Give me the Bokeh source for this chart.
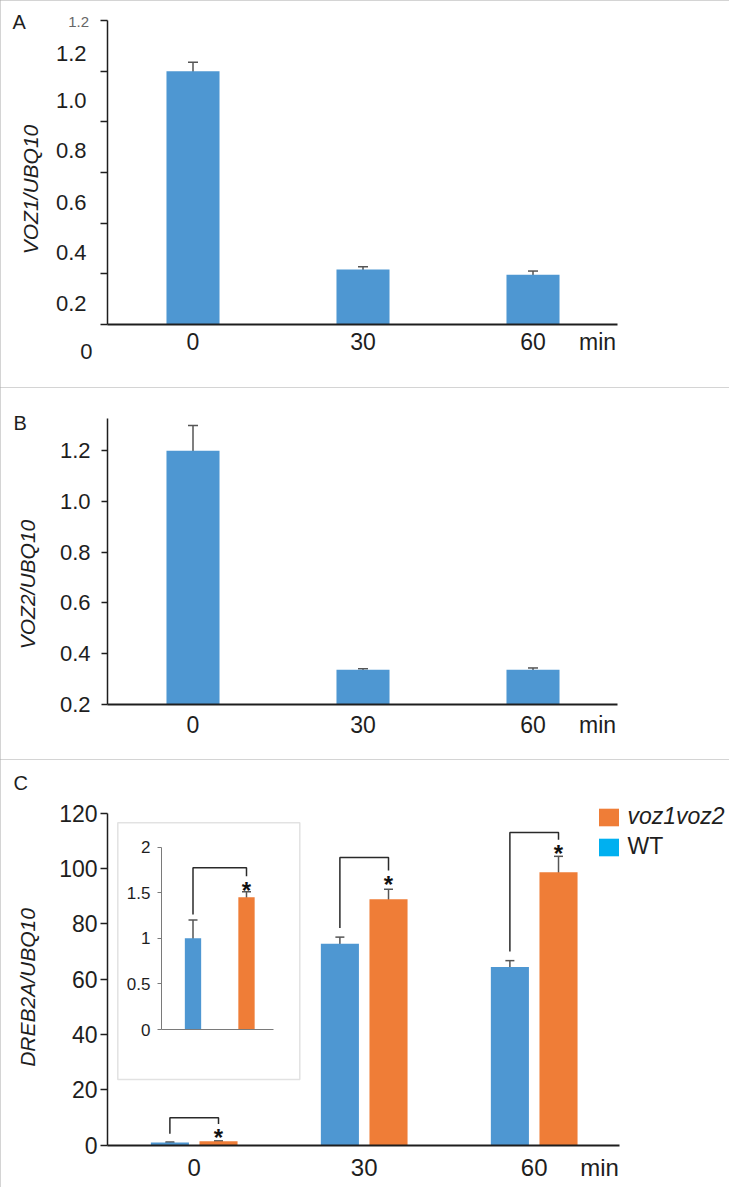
import math
from bokeh.plotting import figure
from bokeh.layouts import column
from bokeh.models import (Range1d, FixedTicker, Whisker, TeeHead, ColumnDataSource,
                          Label, Legend, LegendItem, LinearAxis, BoxAnnotation)
from bokeh.core.properties import value
from bokeh.embed import file_html
from bokeh.resources import INLINE

# ---------------- data ----------------
times = ["0", "30", "60"]
time_unit = "min"

# panel A : VOZ1/UBQ10
voz1_mean = [1.0, 0.217, 0.196]
voz1_sd = [0.035, 0.011, 0.015]
voz1_ticks = [0.0, 0.2, 0.4, 0.6, 0.8, 1.0, 1.2]
voz1_tick_labels = ["0", "0.2", "0.4", "0.6", "0.8", "1.0", "1.2"]
voz1_label_pos = [-0.105, 0.082, 0.285, 0.483, 0.687, 0.884, 1.069]  # labels sit off their ticks
voz1_extra_label = "1.2"

# panel B : VOZ2/UBQ10
voz2_mean = [1.2, 0.336, 0.336]
voz2_sd = [0.10, 0.004, 0.007]
voz2_ticks = [0.2, 0.4, 0.6, 0.8, 1.0, 1.2]
voz2_tick_labels = ["0.2", "0.4", "0.6", "0.8", "1.0", "1.2"]

# panel C : DREB2A/UBQ10
genotypes = ["voz1voz2", "WT"]
dreb_wt = [1.0, 72.8, 64.4]
dreb_wt_sd = [0.2, 2.4, 2.3]
dreb_mut = [1.45, 88.9, 98.6]
dreb_mut_sd = [0.06, 3.6, 5.8]
dreb_ticks = [0, 20, 40, 60, 80, 100, 120]
inset_ticks = [0, 0.5, 1, 1.5, 2]
inset_tick_labels = ["0", "0.5", "1", "1.5", "2"]
sig_marker = "*"
bracket_wt_end = [4.1, 78.5, 70.0]
bracket_top = [9.9, 104.0, 113.0]
bracket_mut_end = [7.7, 99.3, 110.4]
inset_bracket = [1.26, 1.773, 1.68]   # wt end, top, mutant end

# ---------------- styling ----------------
FONT = "Liberation Sans"
INK = "#1e1e1e"
BLUE = "#4E97D2"
ORANGE = "#EF7D37"
LEG_BLUE = "#00B0F0"
ERR = "#555555"
W = 729
NAN = float("nan")
STAR_OFFSET = 14


def lin(p0, per, v0, flip=False):
    """reference-pixel -> data value"""
    if flip:
        return lambda px: v0 + (p0 - px) / per
    return lambda px: v0 + (px - p0) / per


def make_panel(h, ref_top, dx, dy):
    p = figure(width=W, height=h, x_range=Range1d(dx(0), dx(W)),
               y_range=Range1d(dy(ref_top + h), dy(ref_top)),
               x_axis_location=None, y_axis_location=None, min_border=0,
               output_backend="svg", toolbar_location=None)
    p.grid.visible = False
    p.outline_line_color = None
    p.styles = {"outline": "2px solid #a9a9a9", "outline-offset": "-2px"}
    return p


def x_axis(p, y_at, x_lo, x_hi, ticks, labels, size="23px", standoff=1):
    ax = LinearAxis(fixed_location=y_at, bounds=(x_lo, x_hi),
                    ticker=FixedTicker(ticks=ticks),
                    major_label_overrides={t: l for t, l in zip(ticks, labels)},
                    axis_line_color=INK, axis_line_width=2,
                    major_tick_line_color=None, minor_tick_line_color=None,
                    major_label_text_font=FONT, major_label_text_font_size=size,
                    major_label_text_color=INK, major_label_standoff=standoff)
    p.add_layout(ax, "below")
    return ax


def y_axis(p, x_at, bounds, ticker, overrides, size, standoff, tick_out):
    ax = LinearAxis(fixed_location=x_at, bounds=bounds, ticker=ticker,
                    major_label_overrides=overrides,
                    axis_line_color=INK, axis_line_width=1.5,
                    major_tick_line_color=INK, major_tick_line_width=1.5,
                    major_tick_out=tick_out, major_tick_in=0,
                    minor_tick_line_color=None,
                    major_label_text_font=FONT, major_label_text_font_size=size,
                    major_label_text_color=INK, major_label_standoff=standoff)
    p.add_layout(ax, "left")
    return ax


def add_whiskers(p, xs, mean, sd, size=10, **kw):
    src = ColumnDataSource(dict(x=xs,
                                upper=[m + s for m, s in zip(mean, sd)],
                                lower=[m - s for m, s in zip(mean, sd)]))
    w = Whisker(source=src, base="x", upper="upper", lower="lower",
                line_color=ERR, line_width=1.5,
                upper_head=TeeHead(size=size, line_color=ERR, line_width=1.5),
                lower_head=TeeHead(size=size, line_color=ERR, line_width=1.5), **kw)
    p.add_layout(w)


def add_label(p, x, y, text, size, align="left", baseline="middle", color=INK,
              style="normal", angle=0.0):
    p.add_layout(Label(x=x, y=y, text=text, text_font=FONT, text_font_size=size,
                       text_align=align, text_baseline=baseline, text_color=color,
                       text_font_style=style, angle=angle))


pos = list(range(len(times)))
UP = math.pi / 2

# ================= Panel A =================
A_TOP, A_H = 0, 387
dxA = lin(192.5, 170.0, 0.0)
dyA = lin(324.0, 253.3, 0.0, flip=True)
pA = make_panel(A_H, A_TOP, dxA, dyA)
pA.vbar(x=pos, top=voz1_mean, width=0.312, fill_color=BLUE, line_color=None)
add_whiskers(pA, pos, voz1_mean, voz1_sd)
x_axis(pA, 0.0, dxA(107), dxA(617), pos + [dxA(597)], times + [time_unit], standoff=-2)
inside = [(v, t) for v, t in zip(voz1_label_pos, voz1_tick_labels) if 0 <= v <= 1.2]
yA = y_axis(pA, dxA(107), (voz1_ticks[0], voz1_ticks[-1]),
            FixedTicker(ticks=[v for v, _ in inside], minor_ticks=voz1_ticks),
            {v: t for v, t in inside}, "22px", 14, 0)
yA.minor_tick_out = 7
yA.minor_tick_in = 0
yA.minor_tick_line_color = INK
yA.minor_tick_line_width = 1.5
for v, t in zip(voz1_label_pos, voz1_tick_labels):
    if v < 0:
        add_label(pA, dxA(92), v, t, "22px", align="right")
add_label(pA, dxA(88.5), dyA(21.7), voz1_extra_label, "15px", align="right", color="#666666")
add_label(pA, dxA(12), dyA(21), "A", "20px")
add_label(pA, dxA(29.5), dyA(189), "VOZ1/UBQ10", "21px", align="center", style="italic", angle=UP)

# ================= Panel B =================
B_TOP, B_H = 395, 372
dxB = lin(192.5, 170.0, 0.0)
dyB = lin(711.7, 253.4, 0.2, flip=True)
pB = make_panel(B_H, B_TOP, dxB, dyB)
pB.vbar(x=pos, top=voz2_mean, bottom=voz2_ticks[0], width=0.312, fill_color=BLUE, line_color=None)
add_whiskers(pB, pos, voz2_mean, voz2_sd)
x_axis(pB, voz2_ticks[0], dxB(107), dxB(617), pos + [dxB(597)], times + [time_unit], standoff=2)
y_axis(pB, dxB(107), (voz2_ticks[0], dyB(426)), FixedTicker(ticks=voz2_ticks),
       {v: t for v, t in zip(voz2_ticks, voz2_tick_labels)}, "22px", 11, 6)
add_label(pB, dxB(13), dyB(430), "B", "20px")
add_label(pB, dxB(27), dyB(592), "VOZ2/UBQ10", "21px", align="center", style="italic", angle=UP)

# ================= Panel C =================
C_TOP, C_H = 775, 428
dxC = lin(193.7, 170.0, 0.0)
dyC = lin(1160.7, 2.767, 0.0, flip=True)
pC = make_panel(C_H, C_TOP, dxC, dyC)
off = 0.143
bw = 0.224
x_wt = [x - off for x in pos]
x_mut = [x + off for x in pos]

# inset frame (drawn below everything)
pC.add_layout(BoxAnnotation(left=dxC(117.3), right=dxC(299.3), top=dyC(838.3), bottom=dyC(1095),
                            fill_color="white", fill_alpha=1.0, line_color="#a0a0a0",
                            line_width=1.5, level="underlay"))

pC.vbar(x=x_wt, top=dreb_wt, width=bw, fill_color=BLUE, line_color=None)
pC.vbar(x=x_mut, top=dreb_mut, width=bw, fill_color=ORANGE, line_color=None)
add_whiskers(pC, x_wt, dreb_wt, dreb_wt_sd, size=9)
add_whiskers(pC, x_mut, dreb_mut, dreb_mut_sd, size=9)
pC.multi_line(xs=[[a, a, b, b] for a, b in zip(x_wt, x_mut)],
              ys=[[l, t, t, r] for l, t, r in zip(bracket_wt_end, bracket_top, bracket_mut_end)],
              line_color="#2a2a2a", line_width=1.5)
pC.text(x=x_mut, y=bracket_mut_end, text=[sig_marker] * len(x_mut), text_font=value(FONT),
        text_font_size=value("24px"), text_font_style="bold", text_align="center",
        text_baseline="alphabetic", y_offset=STAR_OFFSET, text_color="#111111")
x_axis(pC, 0, dxC(107), dxC(619), pos + [dxC(599)], times + [time_unit], size="24px", standoff=3)
y_axis(pC, dxC(107), (dreb_ticks[0], dreb_ticks[-1]), FixedTicker(ticks=dreb_ticks),
       {}, "23px", 3, 7)
add_label(pC, dxC(13), dyC(798), "C", "20px")
add_label(pC, dxC(27), dyC(1003), "DREB2A/UBQ10", "21px", align="center", style="italic", angle=UP)

# inset: 0 min on its own scale
dix = lin(192.5, 53.5, 0.0)
diy = lin(1045.0, 91.2, 0.0, flip=True)
pC.extra_x_ranges = {"ix": Range1d(dix(0), dix(W))}
pC.extra_y_ranges = {"iy": Range1d(diy(C_TOP + C_H), diy(C_TOP))}
ipos = [0, 1]
inset_vals = [dreb_wt[0], dreb_mut[0]]
inset_sd = [dreb_wt_sd[0], dreb_mut_sd[0]]
pC.vbar(x=ipos, top=inset_vals, width=0.305, fill_color=[BLUE, ORANGE], line_color=None,
        x_range_name="ix", y_range_name="iy")
add_whiskers(pC, ipos, inset_vals, inset_sd, size=9, x_range_name="ix", y_range_name="iy")
pC.multi_line(xs=[[ipos[0], ipos[0], ipos[1], ipos[1]]],
              ys=[[inset_bracket[0], inset_bracket[1], inset_bracket[1], inset_bracket[2]]],
              line_color="#2a2a2a", line_width=1.5, x_range_name="ix", y_range_name="iy")
pC.text(x=[ipos[1]], y=[inset_bracket[2]], text=[sig_marker], text_font=value(FONT),
        text_font_size=value("24px"), text_font_style="bold", text_align="center",
        text_baseline="alphabetic", y_offset=STAR_OFFSET, text_color="#111111",
        x_range_name="ix", y_range_name="iy")
iy_axis = LinearAxis(x_range_name="ix", y_range_name="iy", fixed_location=dix(161),
                     bounds=(inset_ticks[0], inset_ticks[-1]),
                     ticker=FixedTicker(ticks=inset_ticks),
                     major_label_overrides={v: t for v, t in zip(inset_ticks, inset_tick_labels)},
                     axis_line_color="#7a7a7a", axis_line_width=1,
                     major_tick_line_color="#7a7a7a", major_tick_out=4, major_tick_in=0,
                     minor_tick_line_color=None, major_label_standoff=7,
                     major_label_text_font=FONT, major_label_text_font_size="17px",
                     major_label_text_color=INK)
pC.add_layout(iy_axis, "left")
ix_axis = LinearAxis(x_range_name="ix", y_range_name="iy", fixed_location=0,
                     bounds=(dix(161), dix(272.7)), ticker=FixedTicker(ticks=[]),
                     axis_line_color="#7a7a7a", axis_line_width=1,
                     major_tick_line_color=None, minor_tick_line_color=None)
pC.add_layout(ix_axis, "below")

# legend (two entries; mutant name in italics). The legend-only renderers hold no drawable point.
r_mut_leg = pC.vbar(x=[NAN], top=[NAN], width=0.2, fill_color=ORANGE, line_color=None)
r_wt_leg = pC.vbar(x=[NAN], top=[NAN], width=0.2, fill_color=LEG_BLUE, line_color=None)
for lab, rend, top_ref, style in [(genotypes[0], r_mut_leg, 846.0, "italic"),
                                  (genotypes[1], r_wt_leg, 876.0, "normal")]:
    leg = Legend(items=[LegendItem(label=lab, renderers=[rend])],
                 location=(595.5, C_H - (top_ref - C_TOP)),
                 glyph_width=25, glyph_height=22, label_standoff=7, label_height=22,
                 label_text_font=FONT, label_text_font_size="23px",
                 label_text_font_style=style, label_text_color=INK,
                 border_line_color=None, background_fill_alpha=0, padding=0, margin=0,
                 spacing=0)
    pC.add_layout(leg)

layout = column(pA, pB, pC, spacing=0)
open("out.html", "w").write(file_html(layout, INLINE))
